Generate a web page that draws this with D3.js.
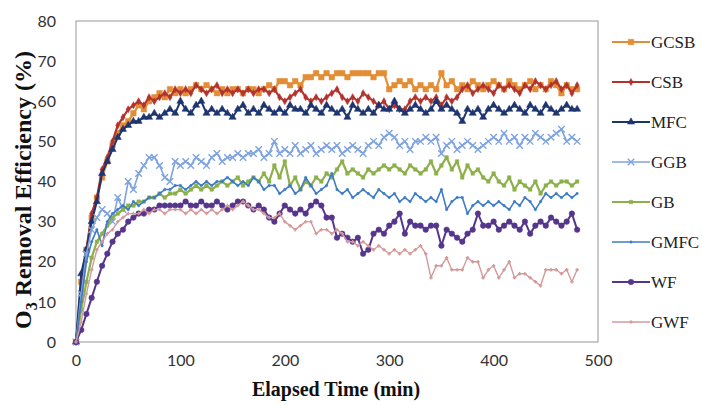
<!DOCTYPE html>
<html>
<head>
<meta charset="utf-8">
<script src="https://cdn.jsdelivr.net/npm/d3@7/dist/d3.min.js"></script>
<style>
  html, body { margin: 0; padding: 0; background: #fff; }
  svg { display: block; }
</style>
</head>
<body>
<svg id="chart" width="702" height="405"></svg>
<script>
// Sampling times (min), every 5 minutes from 0 to 480
const times = d3.range(0, 481, 5);

const seriesNames = ["GCSB", "CSB", "MFC", "GGB", "GB", "GMFC", "WF", "GWF"];

// O3 removal efficiency (%) per reactor
const GCSB = [
  0, 15, 23, 31, 36, 41, 45, 49, 52, 54,
  55, 57, 59, 58, 60, 61, 62, 61, 63, 62,
  63, 62, 63, 64, 63, 64, 63, 62, 63, 62,
  63, 63, 62, 63, 63, 62, 63, 64, 63, 65,
  65, 64, 65, 64, 66, 66, 67, 66, 67, 66,
  67, 67, 66, 67, 67, 67, 67, 66, 67, 67,
  63, 64, 65, 64, 65, 63, 64, 63, 64, 63,
  67, 64, 65, 63, 64, 63, 65, 64, 63, 64,
  65, 64, 63, 65, 64, 63, 64, 65, 63, 64,
  63, 65, 64, 62, 64, 63, 63
];
const CSB = [
  0, 13, 23, 32, 36, 43, 46, 50, 54, 56,
  58, 59, 60, 59, 61, 60, 61, 62, 61, 63,
  62, 63, 62, 64, 63, 62, 63, 64, 62, 63,
  62, 63, 62, 63, 62, 63, 63, 62, 63, 61,
  60, 61, 62, 63, 61, 60, 61, 60, 61, 62,
  63, 61, 60, 61, 60, 62, 61, 60, 59, 60,
  58, 59, 58, 58, 60, 61, 60, 61, 60, 61,
  59, 61, 60, 61, 63, 64, 62, 63, 64, 63,
  62, 64, 63, 64, 63, 62, 64, 63, 65, 64,
  63, 64, 65, 63, 64, 62, 64
];
const MFC = [
  0, 17, 23, 30, 35, 42, 45, 48, 51, 53,
  54, 55, 55, 56, 56, 57, 56, 57, 58, 57,
  60, 58, 57, 59, 60, 57, 58, 57, 58, 57,
  56, 58, 59, 57, 58, 57, 59, 58, 57, 58,
  57, 59, 58, 58, 57, 59, 58, 57, 59, 58,
  57, 58, 56, 59, 58, 57, 58, 57, 59, 58,
  58, 60, 58, 57, 58, 59, 58, 57, 58, 60,
  58, 59, 58, 57, 55, 58, 57, 58, 56, 58,
  59, 58, 57, 58, 59, 58, 57, 59, 58, 57,
  59, 58, 57, 58, 59, 58, 58
];
const GGB = [
  0, 12, 22, 28, 31, 33, 32, 30, 36, 33,
  40, 38, 42, 44, 46, 46, 44, 41, 40, 45,
  44, 45, 44, 46, 45, 44, 46, 47, 45, 46,
  46, 47, 46, 47, 47, 48, 46, 47, 50, 47,
  48, 47, 49, 47, 48, 49, 47, 48, 49, 48,
  49, 47, 48, 49, 48, 47, 49, 50, 49, 51,
  52, 51, 49, 50, 48, 50, 50, 51, 50, 51,
  47, 49, 50, 48, 49, 50, 49, 48, 49, 50,
  51, 50, 52, 50, 51, 49, 51, 50, 52, 51,
  50, 51, 52, 53, 50, 51, 50
];
const GB = [
  0, 8, 15, 21, 25, 27, 29, 31, 32, 33,
  34, 34, 35, 35, 36, 36, 37, 36, 37, 37,
  38, 37, 38, 39, 38, 39, 38, 39, 40, 39,
  40, 41, 39, 40, 41, 40, 42, 40, 44, 41,
  45, 39, 41, 38, 40, 39, 41, 40, 42, 41,
  43, 45, 42, 43, 42, 41, 43, 42, 43, 44,
  43, 44, 43, 42, 44, 43, 42, 43, 45, 42,
  44, 46, 43, 45, 41, 44, 42, 43, 41, 40,
  42, 40, 39, 41, 38, 40, 39, 38, 40, 37,
  39, 40, 39, 40, 40, 39, 40
];
const GMFC = [
  0, 10, 20, 25, 28, 24, 30, 32, 33, 34,
  33, 35, 34, 35, 36, 36, 37, 38, 38, 39,
  39, 38, 39, 40, 39, 40, 39, 40, 40, 41,
  40, 39, 40, 39, 41, 40, 38, 39, 39, 37,
  38, 39, 37, 38, 41, 39, 37, 38, 39, 42,
  38, 37, 38, 36, 37, 38, 37, 36, 38, 37,
  36, 37, 35, 36, 35, 37, 36, 35, 36, 35,
  38, 33, 35, 36, 36, 32, 34, 35, 34, 35,
  34, 35, 34, 33, 35, 34, 36, 35, 33, 35,
  37, 36, 37, 36, 37, 36, 37
];
const WF = [
  0, 3, 7, 11, 15, 19, 22, 25, 27, 28,
  30, 31, 32, 32, 33, 33, 34, 34, 34, 34,
  34, 35, 34, 34, 35, 34, 34, 35, 34, 33,
  34, 35, 35, 34, 33, 34, 33, 31, 30, 32,
  34, 33, 32, 33, 32, 34, 35, 34, 31, 31,
  26, 27, 26, 25, 26, 22, 23, 27, 28, 27,
  29, 30, 32, 27, 30, 29, 29, 28, 29, 29,
  24, 28, 27, 26, 25, 27, 28, 32, 29, 29,
  30, 28, 29, 30, 29, 28, 30, 27, 29, 30,
  29, 31, 30, 29, 30, 32, 28
];
const GWF = [
  0, 5, 12, 18, 23, 25, 27, 28, 30, 31,
  32, 32, 32, 33, 32, 33, 33, 32, 33, 33,
  33, 32, 33, 32, 33, 32, 33, 32, 33, 34,
  33, 34, 35, 34, 33, 33, 32, 31, 31, 32,
  30, 29, 28, 29, 30, 30, 27, 28, 28, 27,
  28, 27, 25, 25, 24, 25, 24, 23, 24, 23,
  22, 23, 22, 23, 22, 23, 24, 22, 16, 19,
  19, 21, 18, 18, 18, 21, 20, 20, 16, 18,
  19, 16, 18, 20, 16, 17, 17, 16, 15, 14,
  18, 18, 18, 17, 18, 15, 18
];

const xTicks = [0, 100, 200, 300, 400, 500];
const yTicks = [0, 10, 20, 30, 40, 50, 60, 70, 80];

const seriesValues = [GCSB, CSB, MFC, GGB, GB, GMFC, WF, GWF];
const colors = ["#E38D35", "#B2332E", "#1E3570", "#7FA3DE", "#8DB04A", "#3F7CC4", "#56368C", "#D49A9A"];

// Line and marker styling for each series
const styles = [
  { width: 2.2, marker: "square",   size: 5.5 },
  { width: 2.2, marker: "diamond",  size: 3.5 },
  { width: 2.0, marker: "triangle", size: 4.5 },
  { width: 1.6, marker: "x",        size: 6.5 },
  { width: 2.2, marker: "square",   size: 3.5 },
  { width: 1.6, marker: "dot",      size: 2.2 },
  { width: 2.0, marker: "circle",   size: 5.5 },
  { width: 1.4, marker: "plus",     size: 3.5 }
];

const svg = d3.select("#chart");
const W = 702, H = 405;
const margin = { left: 76, right: W - 598, top: 21, bottom: H - 342 };

const x = d3.scaleLinear().domain([0, 500]).range([margin.left, W - margin.right]);
const y = d3.scaleLinear().domain([0, 80]).range([H - margin.bottom, margin.top]);

// Plot area frame
svg.append("rect")
  .attr("x", x(0)).attr("y", y(80))
  .attr("width", x(500) - x(0)).attr("height", y(0) - y(80))
  .attr("fill", "none").attr("stroke", "#a9a9a9").attr("stroke-width", 1.2);

// Axes
const tickFont = "Lato, 'Open Sans', sans-serif";
const yAxis = svg.append("g")
  .attr("transform", `translate(${x(0)},0)`)
  .call(d3.axisLeft(y).tickValues(yTicks).tickSize(0).tickPadding(20).tickFormat(d3.format("d")));
yAxis.select(".domain").remove();
yAxis.selectAll("text").attr("font-family", tickFont).attr("font-size", 16).attr("fill", "#333");

const xAxis = svg.append("g")
  .attr("transform", `translate(0,${y(0)})`)
  .call(d3.axisBottom(x).tickValues(xTicks).tickSize(0).tickPadding(13).tickFormat(d3.format("d")));
xAxis.select(".domain").remove();
xAxis.selectAll("text").attr("font-family", tickFont).attr("font-size", 16).attr("fill", "#333");

// Axis titles
const titleFont = "'Liberation Serif', 'Times New Roman', serif";
svg.append("text")
  .attr("x", 336).attr("y", 396)
  .attr("text-anchor", "middle")
  .attr("font-family", titleFont).attr("font-weight", "bold").attr("font-size", 20)
  .attr("fill", "#111")
  .text("Elapsed Time (min)");

const yTitle = svg.append("text")
  .attr("transform", "translate(31,190) rotate(-90)")
  .attr("text-anchor", "middle")
  .attr("font-family", titleFont).attr("font-weight", "bold").attr("font-size", 24)
  .attr("fill", "#111");
yTitle.append("tspan").text("O");
yTitle.append("tspan").attr("dy", 6).attr("font-size", 16).text("3");
yTitle.append("tspan").attr("dy", -6).text(" Removal Efficiency (%)");

// Marker shapes
const xShape = { draw(ctx, size) { const r = Math.sqrt(size) / 2; ctx.moveTo(-r, -r); ctx.lineTo(r, r); ctx.moveTo(-r, r); ctx.lineTo(r, -r); } };
const plusShape = { draw(ctx, size) { const r = Math.sqrt(size) / 2; ctx.moveTo(-r, 0); ctx.lineTo(r, 0); ctx.moveTo(0, -r); ctx.lineTo(0, r); } };

function markerPath(kind, s) {
  switch (kind) {
    case "square":   return d3.symbol(d3.symbolSquare, s * s)();
    case "diamond":  return d3.symbol(d3.symbolDiamond, s * s * 1.2)();
    case "triangle": return d3.symbol(d3.symbolTriangle, s * s * 1.1)();
    case "circle":   return d3.symbol(d3.symbolCircle, s * s * 0.8)();
    case "dot":      return d3.symbol(d3.symbolCircle, s * s)();
    case "x":        return d3.symbol(xShape, s * s)();
    case "plus":     return d3.symbol(plusShape, s * s)();
  }
}
const strokeMarker = k => k === "x" || k === "plus";

const line = d3.line().x(d => x(d.t)).y(d => y(d.v));

const plot = svg.append("g");
seriesNames.forEach((name, i) => {
  const data = times.map((t, j) => ({ t, v: seriesValues[i][j] }));
  const g = plot.append("g").attr("class", "series-" + name);
  g.append("path")
    .datum(data)
    .attr("d", line)
    .attr("fill", "none")
    .attr("stroke", colors[i])
    .attr("stroke-width", styles[i].width)
    .attr("stroke-linejoin", "round");
  const sym = markerPath(styles[i].marker, styles[i].size);
  g.selectAll("path.m")
    .data(data)
    .join("path")
    .attr("class", "m")
    .attr("transform", d => `translate(${x(d.t)},${y(d.v)})`)
    .attr("d", sym)
    .attr("fill", strokeMarker(styles[i].marker) ? "none" : colors[i])
    .attr("stroke", colors[i])
    .attr("stroke-width", strokeMarker(styles[i].marker) ? 1.4 : 0.5);
});

// Legend
const legend = svg.append("g");
seriesNames.forEach((name, i) => {
  const ly = 42 + i * 40;
  const row = legend.append("g");
  row.append("line")
    .attr("x1", 612).attr("x2", 650).attr("y1", ly).attr("y2", ly)
    .attr("stroke", colors[i]).attr("stroke-width", styles[i].width);
  row.append("path")
    .attr("transform", `translate(631,${ly})`)
    .attr("d", markerPath(styles[i].marker, styles[i].size))
    .attr("fill", strokeMarker(styles[i].marker) ? "none" : colors[i])
    .attr("stroke", colors[i])
    .attr("stroke-width", strokeMarker(styles[i].marker) ? 1.4 : 0.5);
  row.append("text")
    .attr("x", 651).attr("y", ly + 6)
    .attr("font-family", titleFont).attr("font-size", 17)
    .attr("fill", "#222")
    .text(name);
});
</script>
</body>
</html>
